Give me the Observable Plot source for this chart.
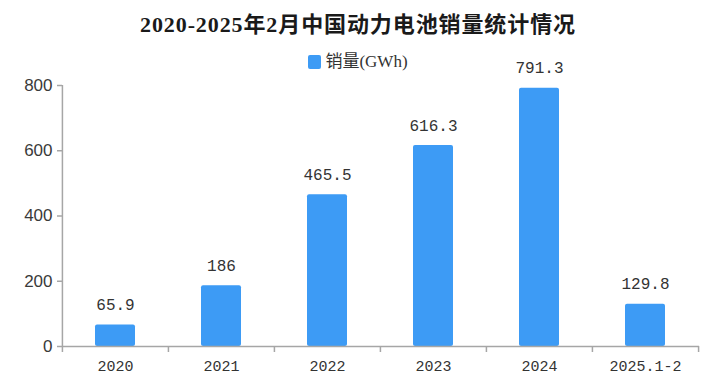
<!DOCTYPE html>
<html>
<head>
<meta charset="utf-8">
<script src="https://cdn.jsdelivr.net/npm/d3@7"></script>
<script src="https://cdn.jsdelivr.net/npm/@observablehq/plot@0.6"></script>
<style>
  html, body { margin: 0; padding: 0; background: #fff; }
  #wrap { position: relative; width: 716px; height: 378px; overflow: hidden; }
  #title { position: absolute; left: 0; top: 6px; width: 716px; text-align: center;
    font: bold 22px "Liberation Serif", "Noto Sans CJK SC", serif; color: #1a1a1a; letter-spacing: 0.9px; }
  #legend { position: absolute; left: 0; top: 47px; width: 716px; text-align: center;
    font: 17px "Liberation Serif", "Noto Sans CJK SC", serif; color: #333; }
  #legend .sw { display: inline-block; width: 13px; height: 14px; background: #3d9bf5; border-radius: 2px;
    vertical-align: -2px; margin-right: 4px; }
  #chart { position: absolute; left: 0; top: 0; }
</style>
</head>
<body>
<div id="wrap">
  <div id="chart"></div>
  <div id="title">2020-2025年2月中国动力电池销量统计情况</div>
  <div id="legend"><span class="sw"></span>销量(GWh)</div>
</div>
<script>
const categories = ["2020", "2021", "2022", "2023", "2024", "2025.1-2"];
const sales = [65.9, 186, 465.5, 616.3, 791.3, 129.8];
const salesLabels = ["65.9", "186", "465.5", "616.3", "791.3", "129.8"];
const yTicks = [0, 200, 400, 600, 800];
const seriesName = "销量(GWh)";

const data = categories.map((c, i) => ({cat: c, value: sales[i], label: salesLabels[i]}));

const W = 716, H = 378, mL = 62, mR = 17, mT = 85, mB = 32;
const step = (W - mL - mR) / categories.length;
const barColor = "#3d9bf5";
const axisColor = "#a6a6a6";

const chart = Plot.plot({
  width: W,
  height: H,
  marginLeft: mL,
  marginRight: mR,
  marginTop: mT,
  marginBottom: mB,
  style: {background: "transparent", overflow: "visible"},
  x: {domain: categories, paddingInner: 0.62, paddingOuter: 0.31, label: null},
  y: {domain: [0, 800], ticks: yTicks, label: null},
  marks: [
    Plot.barY(data, {x: "cat", y: "value", fill: barColor, rx: 2, title: d => seriesName}),
    Plot.ruleY([0], {stroke: axisColor, strokeWidth: 1.5}),
    Plot.ruleX([categories[0]], {dx: -step / 2, y1: 0, y2: 800, stroke: axisColor, strokeWidth: 1.5}),
    Plot.axisY({ticks: yTicks, tickSize: 5, tickPadding: 5, stroke: axisColor, strokeWidth: 1.5,
      fill: "#3a3a3a", fontSize: 17, fontFamily: "Liberation Sans, Arial, sans-serif", label: null}),
    Plot.axisX({tickSize: 0, tickPadding: 14, fill: "#333", fontSize: 15,
      fontFamily: "Liberation Mono, monospace", label: null}),
    Plot.axisX({tickSize: 6, dx: -step / 2, text: null, stroke: axisColor, strokeWidth: 1.5, label: null}),
    Plot.axisX({ticks: [categories[categories.length - 1]], tickSize: 6, dx: step / 2, text: null,
      stroke: axisColor, strokeWidth: 1.5, label: null}),
    Plot.text(data, {x: "cat", y: "value", text: "label", dy: -20, fill: "#333", fontSize: 16,
      fontFamily: "Liberation Mono, monospace"})
  ]
});
document.getElementById("chart").appendChild(chart);
</script>
</body>
</html>
